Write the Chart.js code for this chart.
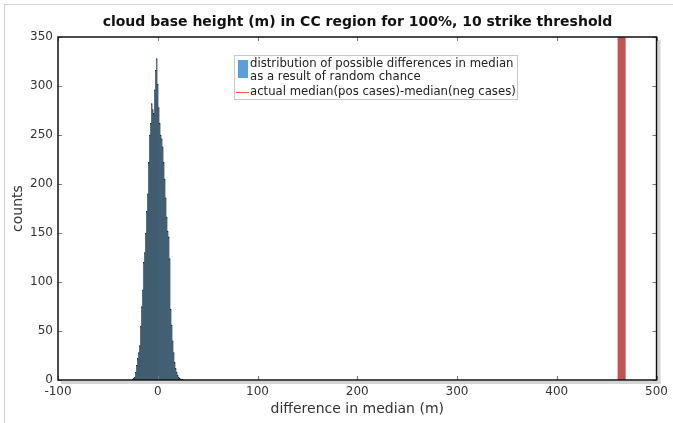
<!DOCTYPE html>
<html>
<head>
<meta charset="utf-8">
<script src="https://cdn.jsdelivr.net/npm/chart.js@4.4.1/dist/chart.umd.min.js"></script>
<style>
  html, body { margin: 0; padding: 0; background: #fff; }
  #wrap { position: relative; width: 673px; height: 423px; font-family: "DejaVu Sans", sans-serif; }
  #frame { position: absolute; left: 4px; top: 4px; right: 0; bottom: 0; border-left: 1px solid #d0d0d0; border-top: 1px solid #d0d0d0; pointer-events: none; }
  canvas { position: absolute; left: 0; top: 0; }
  #title { position: absolute; left: 58px; width: 599px; top: 13px; text-align: center; font-weight: bold; font-size: 14px; color: #111; white-space: nowrap; }
  #legend { position: absolute; left: 234px; top: 55px; width: 282px; height: 43px; border: 1px solid #c8c8c8; background: #fff; font-size: 11.7px; color: #222; }
  .row { position: absolute; left: 15px; white-space: nowrap; line-height: 13px; }
  #patch { position: absolute; left: 3px; top: 4px; width: 10px; height: 18px; background: #5b9fd6; }
  #lline { position: absolute; left: 1px; top: 36px; width: 13px; height: 1px; background: #ff5050; }
</style>
</head>
<body>
<div id="wrap">
  <canvas id="c" width="673" height="423"></canvas>
  <div id="frame"></div>
  <div id="title">cloud base height (m) in CC region for 100%, 10 strike threshold</div>
  <div id="legend">
    <div id="patch"></div>
    <div class="row" style="top:1px">distribution of possible differences in median</div>
    <div class="row" style="top:14px">as a result of random chance</div>
    <div id="lline"></div>
    <div class="row" style="top:29px">actual median(pos cases)-median(neg cases)</div>
  </div>
</div>
<script>
// Histogram bins (difference in median, m) and counts
const binCenters = [-25,-24,-23,-22,-21,-20,-19,-18,-17,-16,
                    -15,-14,-13,-12,-11,-10,-9,-8,-7,-6,
                    -5,-4,-3,-2,-1,
                    0,1,2,3,4,5,6,7,8,9,
                    10,11,12,13,14,15,16,17,18,19,
                    20,21,22,23,24,25];
const counts = [1,2,3,8,15,22,28,35,55,75,
                92,120,130,150,172,190,222,250,262,282,
                276,272,296,316,328,
                302,278,262,250,246,238,222,205,186,166,
                152,146,124,72,56,40,28,18,12,8,
                5,3,2,1,1,1];
// Actual median difference (vertical line)
const actualDiff = 465;
const lineExtent = [0, 350];
// Axis ticks
const xTicks = [-100, 0, 100, 200, 300, 400, 500];
const yTicks = [0, 50, 100, 150, 200, 250, 300, 350];

const histData = binCenters.map((x, i) => ({ x: x, y: counts[i] }));
const lineData = lineExtent.map(y => ({ x: actualDiff, y: y }));

const PLOT = { left: 58, right: 657, top: 37, bottom: 380 };

const frameTicks = {
  id: 'frameTicks',
  afterDraw(chart) {
    const ctx = chart.ctx, a = chart.chartArea;
    const xs = chart.scales.x, ys = chart.scales.y;
    ctx.save();
    ctx.fillStyle = '#d4d4d4';
    ctx.fillRect(a.right + 1, a.top + 3, 3, a.bottom - a.top);
    ctx.fillRect(a.left + 3, a.bottom + 1, a.right - a.left + 1, 3);
    ctx.strokeStyle = '#777';
    ctx.lineWidth = 1;
    ctx.beginPath();
    xTicks.forEach(v => {
      const px = Math.round(xs.getPixelForValue(v)) + 0.5;
      ctx.moveTo(px, a.bottom); ctx.lineTo(px, a.bottom - 4);
      ctx.moveTo(px, a.top); ctx.lineTo(px, a.top + 4);
    });
    yTicks.forEach(v => {
      const py = Math.round(ys.getPixelForValue(v)) + 0.5;
      ctx.moveTo(a.left, py); ctx.lineTo(a.left + 4, py);
      ctx.moveTo(a.right, py); ctx.lineTo(a.right - 4, py);
    });
    ctx.stroke();
    ctx.strokeStyle = '#111';
    ctx.lineWidth = 1.5;
    ctx.strokeRect(a.left, a.top, a.right - a.left, a.bottom - a.top);
    ctx.restore();
  }
};

new Chart(document.getElementById('c'), {
  type: 'bar',
  data: {
    datasets: [
      {
        type: 'bar',
        data: histData,
        backgroundColor: '#22506f',
        borderColor: 'rgba(8,14,20,0.92)',
        borderWidth: 0.7,
        barPercentage: 1,
        categoryPercentage: 1,
        order: 2
      },
      {
        type: 'line',
        data: lineData,
        borderColor: '#c2524f',
        borderWidth: 8,
        borderCapStyle: 'butt',
        pointRadius: 0,
        fill: false,
        order: 1
      }
    ]
  },
  options: {
    responsive: false,
    animation: false,
    events: [],
    layout: { padding: { left: 0, right: 16, top: 37, bottom: 0 } },
    plugins: { legend: { display: false }, tooltip: { enabled: false }, title: { display: false } },
    scales: {
      x: {
        type: 'linear',
        min: -100, max: 500,
        offset: false,
        afterBuildTicks: s => { s.ticks = xTicks.map(v => ({ value: v })); },
        afterFit: s => { s.height = 423 - PLOT.bottom; },
        grid: { display: false, drawTicks: false, offset: false },
        border: { display: false },
        ticks: { color: '#333', font: { family: 'DejaVu Sans', size: 12 }, padding: 5, maxRotation: 0 },
        title: { display: true, text: 'difference in median (m)', color: '#333', font: { family: 'DejaVu Sans', size: 14 }, padding: { top: 0, bottom: 5 } }
      },
      y: {
        min: 0, max: 350,
        afterBuildTicks: s => { s.ticks = yTicks.map(v => ({ value: v })); },
        afterFit: s => { s.width = PLOT.left; },
        grid: { display: false, drawTicks: false },
        border: { display: false },
        ticks: { color: '#333', font: { family: 'DejaVu Sans', size: 12 }, padding: 5 },
        title: { display: true, text: 'counts', color: '#333', font: { family: 'DejaVu Sans', size: 14 }, padding: { top: 10, bottom: 0 } }
      }
    }
  },
  plugins: [frameTicks]
});
</script>
</body>
</html>
